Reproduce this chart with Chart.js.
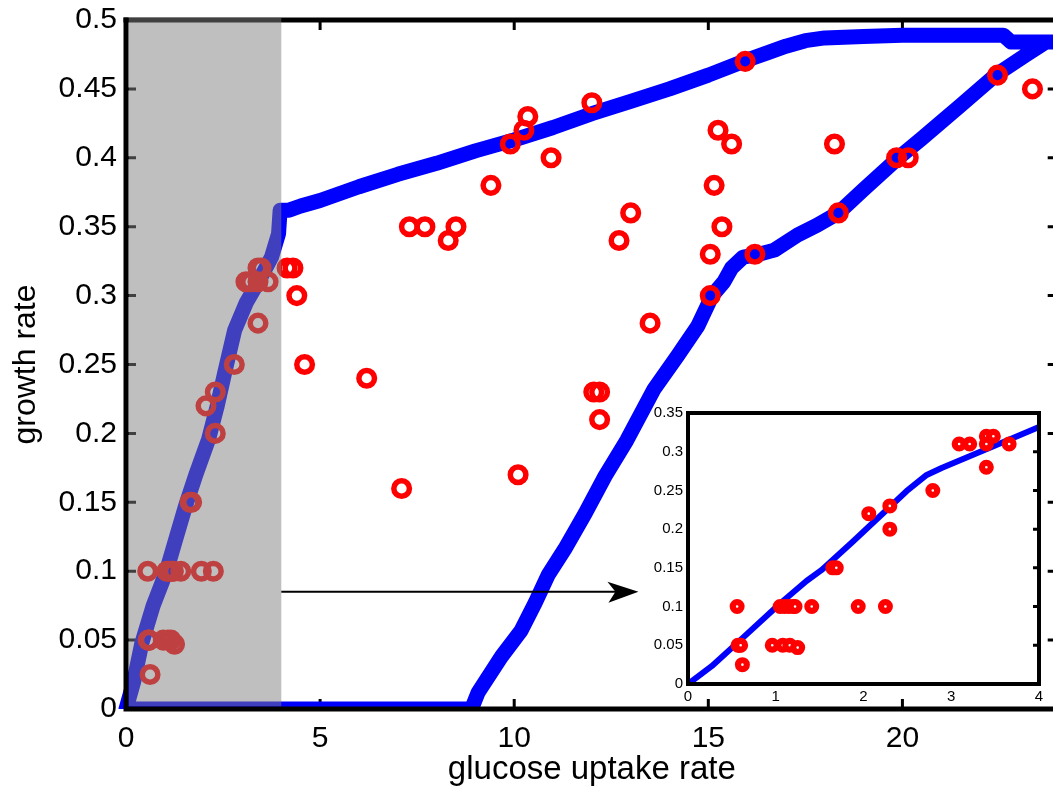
<!DOCTYPE html>
<html>
<head>
<meta charset="utf-8">
<script src="https://cdn.jsdelivr.net/npm/chart.js@4.4.0/dist/chart.umd.min.js"></script>
<style>
  html, body { margin: 0; padding: 0; background: #fff; overflow: hidden; width: 1053px; height: 788px; }
  #wrap { position: relative; width: 1053px; height: 788px; overflow: hidden; }
  #main { position: absolute; left: 0; top: 0; }
  #inset { position: absolute; left: 600px; top: 395px; }
</style>
</head>
<body>
<div id="wrap">
  <canvas id="main" width="1071" height="788" style="width:1071px;height:788px"></canvas>
  <canvas id="inset" width="460" height="320" style="width:460px;height:320px"></canvas>
</div>
<script>
// feasible region boundary (growth rate vs glucose uptake rate), traced in order
const envX = [8.9, 0, 0.2, 0.41, 0.7, 1.03, 1.3, 1.54, 1.8, 2.13, 2.35, 2.55, 2.8, 3.1, 3.45, 3.75, 3.93, 3.97,
  4.2, 4.5, 5, 6, 7, 8, 9, 10, 11, 12, 13, 14, 15, 16, 16.5, 17, 17.5, 18, 19, 20, 21, 22, 22.6, 22.8, 24,
  23.7, 23.2, 22.4, 21.5, 20.5, 19.9, 19, 18.35, 17.8, 17.3, 16.7, 16.3, 15.9, 15.6, 15.4, 15.1, 14.73, 14.2,
  13.6, 12.9, 12.34, 11.83, 11.3, 10.87, 10.54, 10.18, 9.67, 9.07, 8.9];
const envY = [0, 0, 0.02, 0.048, 0.075, 0.099, 0.125, 0.148, 0.17, 0.196, 0.22, 0.245, 0.275, 0.295, 0.312, 0.328, 0.345, 0.362,
  0.362, 0.365, 0.369, 0.379, 0.388, 0.396, 0.405, 0.413, 0.422, 0.432, 0.441, 0.45, 0.46, 0.471, 0.476, 0.481, 0.485, 0.487, 0.488, 0.489, 0.489, 0.489, 0.489, 0.484, 0.484,
  0.484, 0.475, 0.46, 0.438, 0.414, 0.4, 0.377, 0.36, 0.351, 0.344, 0.333, 0.33, 0.328, 0.32, 0.31, 0.3, 0.278, 0.256,
  0.232, 0.195, 0.169, 0.142, 0.116, 0.097, 0.077, 0.057, 0.038, 0.012, 0];

// measured strains, uptake below 4 (shaded, shown in the inset)
const lowX = [0.56, 0.57, 0.59, 0.6, 0.62, 0.96, 1.08, 1.16, 1.25, 1.05, 1.1, 1.15, 1.2, 1.22, 1.41, 1.94, 2.25,
  1.65, 1.69, 2.06, 2.3, 2.3, 2.79, 3.09, 3.21, 3.4, 3.48, 3.4, 3.4, 3.66];
const lowY = [0.1, 0.05, 0.05, 0.05, 0.025, 0.05, 0.05, 0.05, 0.047, 0.1, 0.1, 0.1, 0.1, 0.1, 0.1, 0.1, 0.1,
  0.15, 0.15, 0.22, 0.23, 0.2, 0.25, 0.31, 0.31, 0.32, 0.32, 0.31, 0.28, 0.31];

// measured strains, uptake above 4
const highX = [4.15, 4.3, 4.4, 4.6, 6.2, 7.1, 7.3, 7.7, 8.5, 8.3, 9.4, 9.9, 10.25, 10.35, 10.95, 10.1, 12.0, 12.05,
  12.2, 12.2, 12.7, 13.0, 13.5, 15.05, 15.05, 15.15, 15.35, 15.25, 15.6, 16.2, 15.95, 18.25, 18.35, 19.85, 20.15, 22.45, 23.35];
const highY = [0.32, 0.32, 0.3, 0.25, 0.24, 0.16, 0.35, 0.35, 0.35, 0.34, 0.38, 0.41, 0.42, 0.43, 0.4, 0.17, 0.44, 0.23,
  0.23, 0.21, 0.34, 0.36, 0.28, 0.33, 0.3, 0.38, 0.35, 0.42, 0.41, 0.33, 0.47, 0.41, 0.36, 0.4, 0.4, 0.46, 0.45];

// inset fitted curve
const fitX = [0, 0.27, 0.59, 1.05, 1.35, 1.52, 1.88, 2.19, 2.49, 2.72, 2.89, 3.67, 4.0];
const fitY = [0, 0.023, 0.056, 0.104, 0.133, 0.147, 0.184, 0.217, 0.249, 0.27, 0.279, 0.316, 0.332];

const xTicks = [0, 5, 10, 15, 20];
const xTickLabels = ['0', '5', '10', '15', '20'];
const yTicks = [0, 0.05, 0.1, 0.15, 0.2, 0.25, 0.3, 0.35, 0.4, 0.45, 0.5];
const yTickLabels = ['0', '0.05', '0.1', '0.15', '0.2', '0.25', '0.3', '0.35', '0.4', '0.45', '0.5'];
const insetXTicks = [0, 1, 2, 3, 4];
const insetXTickLabels = ['0', '1', '2', '3', '4'];
const insetYTicks = [0, 0.05, 0.1, 0.15, 0.2, 0.25, 0.3, 0.35];
const insetYTickLabels = ['0', '0.05', '0.1', '0.15', '0.2', '0.25', '0.3', '0.35'];

const shadeRange = [0, 4];
const arrowSpan = [4, 13.2];
const arrowLevel = 0.085;

const pts = (xs, ys) => xs.map((x, i) => ({ x: x, y: ys[i] }));

Chart.defaults.font.family = "'Liberation Sans', Arial, sans-serif";
Chart.defaults.color = '#000';

const mainFrame = {
  id: 'mainFrame',
  beforeDatasetsDraw(chart) {
    const { ctx, chartArea: a, scales: { x, y } } = chart;
    ctx.save();
    ctx.strokeStyle = '#000';
    ctx.lineWidth = 3;
    ctx.beginPath();
    yTicks.forEach(v => {
      const py = y.getPixelForValue(v);
      ctx.moveTo(a.left, py); ctx.lineTo(a.left + 10, py);
      ctx.moveTo(a.right, py); ctx.lineTo(a.right - 10, py);
    });
    xTicks.forEach(v => {
      const px = x.getPixelForValue(v);
      ctx.moveTo(px, a.top); ctx.lineTo(px, a.top + 10);
      ctx.moveTo(px, a.bottom); ctx.lineTo(px, a.bottom - 10);
    });
    ctx.stroke();
    ctx.restore();
  },
  afterDatasetsDraw(chart) {
    const { ctx, chartArea: a, scales: { x, y } } = chart;
    ctx.save();
    ctx.strokeStyle = '#000';
    ctx.lineWidth = 5;
    ctx.lineCap = 'square';
    ctx.beginPath();
    ctx.moveTo(a.left, a.top); ctx.lineTo(a.right, a.top); ctx.lineTo(a.right, a.bottom);
    ctx.stroke();

    // shaded low-uptake band
    const sx0 = x.getPixelForValue(shadeRange[0]);
    const sx1 = x.getPixelForValue(shadeRange[1]);
    ctx.fillStyle = 'rgba(128,128,128,0.5)';
    ctx.fillRect(sx0 + 2.5, a.top - 2.5, sx1 - sx0 - 2.5, a.bottom - a.top);

    ctx.beginPath();
    ctx.moveTo(a.left, a.top); ctx.lineTo(a.left, a.bottom); ctx.lineTo(a.right, a.bottom);
    ctx.stroke();

    // arrow to the inset
    const ax0 = x.getPixelForValue(arrowSpan[0]);
    const ax1 = x.getPixelForValue(arrowSpan[1]);
    const ay = y.getPixelForValue(arrowLevel);
    ctx.lineWidth = 2;
    ctx.lineCap = 'butt';
    ctx.beginPath();
    ctx.moveTo(ax0, ay); ctx.lineTo(ax1 - 20, ay);
    ctx.stroke();
    ctx.fillStyle = '#000';
    ctx.beginPath();
    ctx.moveTo(ax1, ay);
    ctx.lineTo(ax1 - 31, ay - 10);
    ctx.lineTo(ax1 - 23, ay);
    ctx.lineTo(ax1 - 30, ay + 11);
    ctx.closePath();
    ctx.fill();
    ctx.restore();
  }
};

new Chart(document.getElementById('main'), {
  type: 'scatter',
  data: {
    datasets: [
      {
        data: pts(lowX, lowY),
        showLine: false,
        pointRadius: 7.8,
        pointHoverRadius: 7.8,
        borderWidth: 5.5,
        borderColor: '#ff0000',
        backgroundColor: 'rgba(0,0,0,0)',
        order: 0
      },
      {
        data: pts(highX, highY),
        showLine: false,
        pointRadius: 7.8,
        pointHoverRadius: 7.8,
        borderWidth: 5.5,
        borderColor: '#ff0000',
        backgroundColor: 'rgba(0,0,0,0)',
        order: 0
      },
      {
        data: pts(envX, envY),
        showLine: true,
        pointRadius: 0,
        borderColor: '#0000ff',
        borderWidth: 15,
        borderJoinStyle: 'round',
        borderCapStyle: 'round',
        tension: 0,
        clip: { left: 8, top: 8, right: 0, bottom: 0 },
        order: 1
      }
    ]
  },
  options: {
    responsive: false,
    animation: false,
    devicePixelRatio: 1,
    events: [],
    layout: { padding: { top: 20, right: 4, left: 0, bottom: 0 } },
    plugins: { legend: { display: false }, tooltip: { enabled: false } },
    scales: {
      x: {
        type: 'linear',
        min: 0,
        max: 24,
        afterBuildTicks: s => { s.ticks = xTicks.map(v => ({ value: v })); },
        afterFit: s => { s.height = 79; },
        grid: { display: false, drawTicks: false },
        border: { display: false },
        ticks: {
          autoSkip: false,
          maxRotation: 0,
          padding: 12,
          font: { size: 30 },
          callback: (v, i) => xTickLabels[i]
        },
        title: {
          display: true,
          text: 'glucose uptake rate',
          font: { size: 33, lineHeight: 1.1 },
          padding: { top: 0, bottom: 0 }
        }
      },
      y: {
        type: 'linear',
        min: 0,
        max: 0.5,
        afterBuildTicks: s => { s.ticks = yTicks.map(v => ({ value: v })); },
        afterFit: s => { s.width = 126; },
        grid: { display: false, drawTicks: false },
        border: { display: false },
        ticks: {
          autoSkip: false,
          padding: 9,
          font: { size: 30, lineHeight: 0.7 },
          callback: (v, i) => yTickLabels[i]
        },
        title: {
          display: true,
          text: 'growth rate',
          font: { size: 32, lineHeight: 1.1 },
          padding: { top: 9, bottom: 0 }
        }
      }
    }
  },
  plugins: [mainFrame]
});

const insetFrame = {
  id: 'insetFrame',
  beforeDraw(chart) {
    const { ctx, chartArea: a } = chart;
    ctx.save();
    ctx.fillStyle = '#fff';
    ctx.fillRect(a.left, a.top, a.right - a.left, a.bottom - a.top);
    ctx.restore();
  },
  afterDatasetsDraw(chart) {
    const { ctx, chartArea: a, scales: { y } } = chart;
    ctx.save();
    ctx.strokeStyle = '#000';
    ctx.lineWidth = 3;
    ctx.beginPath();
    insetYTicks.forEach(v => {
      const py = y.getPixelForValue(v);
      ctx.moveTo(a.right, py); ctx.lineTo(a.right - 6, py);
    });
    ctx.stroke();
    ctx.lineWidth = 4;
    ctx.strokeRect(a.left, a.top, a.right - a.left, a.bottom - a.top);
    ctx.restore();
  }
};

new Chart(document.getElementById('inset'), {
  type: 'scatter',
  data: {
    datasets: [
      {
        data: pts(lowX, lowY),
        showLine: false,
        pointRadius: 4.4,
        pointHoverRadius: 4.4,
        borderWidth: 6.2,
        borderColor: '#ff0000',
        backgroundColor: '#ffffff',
        order: 0
      },
      {
        data: pts(fitX, fitY),
        showLine: true,
        pointRadius: 0,
        borderColor: '#0000ff',
        borderWidth: 6,
        borderJoinStyle: 'round',
        tension: 0,
        order: 1
      }
    ]
  },
  options: {
    responsive: false,
    animation: false,
    devicePixelRatio: 1,
    events: [],
    layout: { padding: { top: 18, right: 21, left: 0, bottom: 0 } },
    plugins: { legend: { display: false }, tooltip: { enabled: false } },
    scales: {
      x: {
        type: 'linear',
        min: 0,
        max: 4,
        afterBuildTicks: s => { s.ticks = insetXTicks.map(v => ({ value: v })); },
        afterFit: s => { s.height = 31; },
        grid: { display: false, drawTicks: false },
        border: { display: false },
        ticks: {
          autoSkip: false,
          maxRotation: 0,
          padding: 4,
          font: { size: 15 },
          callback: (v, i) => insetXTickLabels[i]
        }
      },
      y: {
        type: 'linear',
        min: 0,
        max: 0.35,
        afterBuildTicks: s => { s.ticks = insetYTicks.map(v => ({ value: v })); },
        afterFit: s => { s.width = 88; },
        grid: { display: false, drawTicks: false },
        border: { display: false },
        ticks: {
          autoSkip: false,
          padding: 5,
          font: { size: 15 },
          callback: (v, i) => insetYTickLabels[i]
        }
      }
    }
  },
  plugins: [insetFrame]
});
</script>
</body>
</html>
